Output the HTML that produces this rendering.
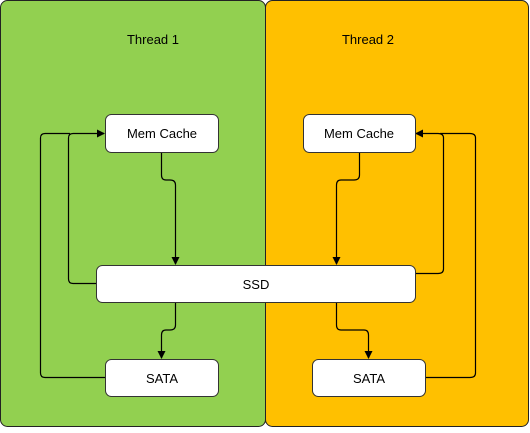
<!DOCTYPE html>
<html><head><style>
body{margin:0;width:530px;height:428px;background:#fff;font-family:"Liberation Sans",sans-serif;}
</style></head><body>
<svg width="530" height="428" xmlns="http://www.w3.org/2000/svg" font-family="Liberation Sans, sans-serif" font-size="13">
<defs><marker id="a" markerWidth="8" markerHeight="8" refX="7" refY="4" orient="auto" markerUnits="userSpaceOnUse"><path d="M0,0 L8,4 L0,8 z" fill="#000"/></marker></defs>
<rect x="0.5" y="0.5" width="265" height="426" rx="7" fill="#92d050" stroke="#222"/>
<rect x="265.5" y="0.5" width="263" height="426" rx="7" fill="#ffc000" stroke="#222"/>
<text x="153" y="44" text-anchor="middle">Thread 1</text>
<text x="368" y="44" text-anchor="middle">Thread 2</text>
<g fill="none" stroke="#000" stroke-width="1.2">
<path d="M161.5,152 V175 Q161.5,180 166,180 H170 Q175.5,180 175.5,185 V264" marker-end="url(#a)"/>
<path d="M175.5,302 V325 Q175.5,330 170,330 H166 Q161.5,330 161.5,335 V358" marker-end="url(#a)"/>
<path d="M96,283.5 H73 Q68.5,283.5 68.5,279 V138 Q68.5,133.5 73,133.5 H104" marker-end="url(#a)"/>
<path d="M105,377.5 H45 Q40.5,377.5 40.5,373 V138 Q40.5,133.5 45,133.5 H70"/>
<path d="M359.5,152 V175 Q359.5,180 354,180 H341 Q336.5,180 336.5,185 V264" marker-end="url(#a)"/>
<path d="M336.5,302 V325 Q336.5,330 341,330 H364 Q368.5,330 368.5,335 V358" marker-end="url(#a)"/>
<path d="M415,273.5 H438 Q443.5,273.5 443.5,269 V138 Q443.5,133.5 438,133.5 H416" marker-end="url(#a)"/>
<path d="M425,377.5 H470 Q475.5,377.5 475.5,373 V138 Q475.5,133.5 470,133.5 H440"/>
</g>
<g fill="#fff" stroke="#333">
<rect x="105.5" y="114.5" width="113" height="38" rx="6"/>
<rect x="303.5" y="114.5" width="112" height="38" rx="6"/>
<rect x="96.5" y="265.5" width="319" height="37" rx="6"/>
<rect x="105.5" y="359.5" width="113" height="37" rx="6"/>
<rect x="312.5" y="359.5" width="113" height="37" rx="6"/>
</g>
<g text-anchor="middle">
<text x="162" y="138">Mem Cache</text>
<text x="359" y="138">Mem Cache</text>
<text x="256" y="289">SSD</text>
<text x="162" y="383">SATA</text>
<text x="369" y="383">SATA</text>
</g>
</svg>
</body></html>
